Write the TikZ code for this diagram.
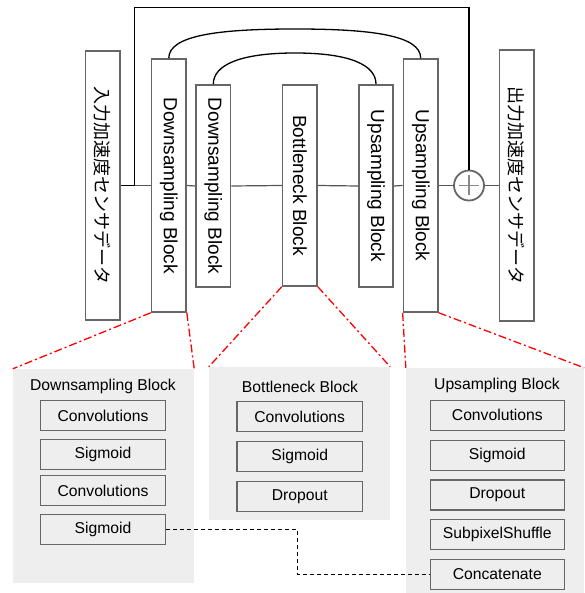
\documentclass[tikz,border=0pt]{standalone}
\usepackage{fontspec}
\usepackage{graphicx}
\setmainfont{Liberation Sans}
\newfontfamily\jp{Noto Sans CJK JP}
\definecolor{boxedge}{HTML}{666666}
\definecolor{panelfill}{HTML}{EEEEEE}
\definecolor{flowline}{HTML}{555555}
\definecolor{plusgray}{HTML}{888888}
\tikzset{
  stage/.style={draw=boxedge, line width=1.6pt, fill=white, inner sep=0pt,
    minimum width=34.5pt, font=\fontsize{19}{22}\selectfont},
  panel/.style={fill=panelfill, draw=none, inner sep=0pt},
  paneltitle/.style={inner sep=0pt, font=\fontsize{15.7}{18}\selectfont},
  layer/.style={draw=boxedge, fill=panelfill, line width=1.3pt, inner sep=0pt,
    minimum height=30pt, font=\fontsize{15.7}{18}\selectfont},
  flow/.style={flowline, line width=1.2pt},
  skipline/.style={black, line width=1.3pt},
  zoomlink/.style={red, line width=1.3pt, dash pattern=on 8pt off 3pt on 2pt off 3pt},
  featlink/.style={black, line width=1.5pt, dash pattern=on 4pt off 3pt},
}
\newcommand{\vtext}[1]{\rotatebox{-90}{#1}}
\begin{document}
\begin{tikzpicture}[x=1pt, y=-1pt]
\useasboundingbox (0,0) rectangle (584,593);

% encoder / decoder stages
\node[stage, minimum height=269pt] (in)  at (102.7,185.5) {\vtext{\jp\fontsize{18}{20}\selectfont 入力加速度センサデータ}};
\node[stage, minimum height=253pt] (d1)  at (168.8,185.5) {\vtext{Downsampling Block}};
\node[stage, minimum height=202pt] (d2)  at (213.3,186)   {\vtext{Downsampling Block}};
\node[stage, minimum height=201pt] (bn)  at (299.8,185.5) {\vtext{Bottleneck Block}};
\node[stage, minimum height=202pt] (u1)  at (376,186)     {\vtext{Upsampling Block}};
\node[stage, minimum height=253pt] (u2)  at (420.7,185.5) {\vtext{Upsampling Block}};
\node[stage, minimum height=271pt] (out) at (516.8,185.5) {\vtext{\jp\fontsize{18}{20}\selectfont 出力加速度センサデータ}};
\node[circle, draw=boxedge, line width=1.8pt, fill=white, minimum size=30pt, inner sep=0pt] (plus) at (469,185.5) {};
\draw[plusgray, line width=1.3pt] ([xshift=-10pt]plus.center) -- ([xshift=10pt]plus.center);
\draw[plusgray, line width=1.3pt] ([yshift=-10pt]plus.center) -- ([yshift=10pt]plus.center);

% main data path
\draw[flow] (in.east) -- (d1.west);
\draw[flow] (d1.east) -- (d2.west);
\draw[flow] (d2.east) -- (bn.west);
\draw[flow] (bn.east) -- (u1.west);
\draw[flow] (u1.east) -- (u2.west);
\draw[flow] (u2.east) -- (plus.west);
\draw[flow] (plus.east) -- (out.west);

% residual connection over the whole network
\coordinate (skiptop) at (134.3,7.3);
\draw[skipline] (in.east) -| (skiptop) -| (plus.north);

% skip connections between matching stages
\draw[skipline] (d1.north) .. controls (168.8,35) and (220,29) .. (295,29)
  .. controls (370,29) and (420.7,35) .. (u2.north);
\draw[skipline] (d2.north) .. controls (213.3,65) and (240,53) .. (295,53)
  .. controls (350,53) and (376,65) .. (u1.north);

% detail panels
\node[panel, minimum width=181pt, minimum height=214pt] (p1) at (103.5,476) {};
\node[panel, minimum width=181pt, minimum height=153pt] (p2) at (299.5,443.5) {};
\node[panel, minimum width=178pt, minimum height=225pt] (p3) at (495,480.5) {};

\node[paneltitle] (t1) at (103,386) {Downsampling Block};
\node[paneltitle] (t2) at (300,387) {Bottleneck Block};
\node[paneltitle] (t3) at (497,385) {Upsampling Block};

\node[layer, minimum width=125.4pt] (dc1) at (103,415.5) {Convolutions};
\node[layer, minimum width=125.4pt] (ds1) at (103,454.3) {Sigmoid};
\node[layer, minimum width=125.4pt] (dc2) at (103,490.5) {Convolutions};
\node[layer, minimum width=125.4pt] (ds2) at (103,529.3) {Sigmoid};

\node[layer, minimum width=125.3pt] (bc) at (299.7,416.7) {Convolutions};
\node[layer, minimum width=125.3pt] (bs) at (299.7,456.7) {Sigmoid};
\node[layer, minimum width=125.3pt] (bd) at (299.7,496.3) {Dropout};

\node[layer, minimum width=134pt] (uc)  at (497.3,415.3) {Convolutions};
\node[layer, minimum width=134pt] (us)  at (497.3,455.3) {Sigmoid};
\node[layer, minimum width=134pt] (ud)  at (497.3,495)   {Dropout};
\node[layer, minimum width=134pt] (ups) at (497.3,534.7) {SubpixelShuffle};
\node[layer, minimum width=134pt] (cat) at (497.3,574.3) {Concatenate};

% feature passed from encoder to decoder
\coordinate (featbend) at (297.5,529.3);
\draw[featlink] (ds2.east) -- (featbend) |- (cat.west);

% zoom-in guides
\draw[zoomlink] (d1.south west) -- (p1.north west);
\draw[zoomlink] (d1.south east) -- (p1.north east);
\draw[zoomlink] (bn.south west) -- (p2.north west);
\draw[zoomlink] (bn.south east) -- (p2.north east);
\draw[zoomlink] (u2.south west) -- (p3.north west);
\draw[zoomlink] (u2.south east) -- (p3.north east);
\end{tikzpicture}
\end{document}
